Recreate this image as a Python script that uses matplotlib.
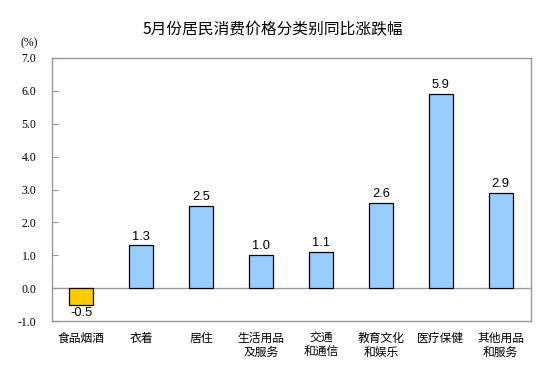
import matplotlib
matplotlib.use("Agg")
import matplotlib.pyplot as plt
import numpy as np

categories = ["食品烟酒", "衣着", "居住", "生活用品\n及服务", "交通\n和通信", "教育文化\n和娱乐", "医疗保健", "其他用品\n和服务"]
values = [-0.5, 1.3, 2.5, 1.0, 1.1, 2.6, 5.9, 2.9]
yticks = [-1.0, 0.0, 1.0, 2.0, 3.0, 4.0, 5.0, 6.0, 7.0]
title = "5月份居民消费价格分类别同比涨跌幅"

cjk = ['Noto Sans CJK SC', 'DejaVu Sans']
fig = plt.figure(figsize=(5.53, 3.84), dpi=100)
ax = fig.add_axes([51.5/553, 1-321/384, 479/553, 263/384])

x = np.arange(len(categories))
colors = ["#FFCC00" if v < 0 else "#99CCFF" for v in values]
ax.bar(x, values, width=0.40, color=colors, edgecolor="black", linewidth=0.9, zorder=3)
ax.axhline(0, color="#999999", linewidth=1, zorder=2)
ax.set_xlim(-0.5, len(categories)-0.5)
ax.set_ylim(-1.0, 7.0)
ax.set_yticks(yticks)
ax.set_yticklabels([f"{t:.1f}" for t in yticks], fontfamily="Liberation Serif", fontsize=8.5)
ax.tick_params(axis="y", direction="in", length=4, color="#999999", pad=11)
ax.set_xticks(x)
ax.set_xticklabels(categories, fontfamily=cjk, fontsize=8.5, linespacing=1.12, va="top")
ax.tick_params(axis="x", length=0, pad=8)
for s in ax.spines.values():
    s.set_color("#999999")
    s.set_linewidth(1)

for xi, v in zip(x, values):
    if v >= 0:
        ax.annotate(f"{v:.1f}", (xi, v), xytext=(0, 2), textcoords="offset points",
                    ha="center", va="bottom", fontsize=9.3, fontfamily="Liberation Sans")
    else:
        ax.annotate(f"{v:.1f}", (xi, v), xytext=(0, -1.5), textcoords="offset points",
                    ha="center", va="top", fontsize=9.3, fontfamily="Liberation Sans")

fig.text(273/553, 1-30/384, title, ha="center", va="center", fontsize=11.3, fontfamily=cjk)
fig.text(29/553, 1-43/384, "(%)", ha="center", va="center", fontsize=8.5, fontfamily="Liberation Serif")

fig.savefig("out.png", dpi=100)
